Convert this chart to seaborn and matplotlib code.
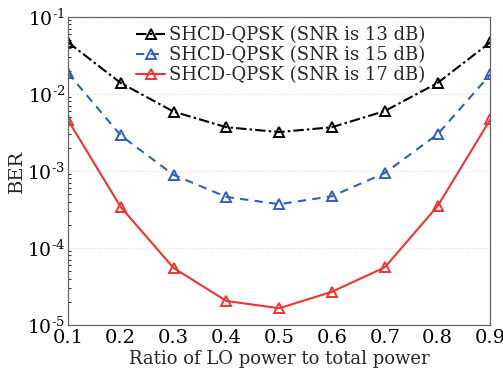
import matplotlib
matplotlib.use('Agg')
from matplotlib import pyplot as plt
from matplotlib.ticker import FixedLocator, FixedFormatter
import pandas as pd
import seaborn as sns

ratio = [0.1, 0.2, 0.3, 0.4, 0.5, 0.6, 0.7, 0.8, 0.9]
ber_13 = [4.7e-2, 1.39e-2, 5.9e-3, 3.7e-3, 3.2e-3, 3.7e-3, 6.0e-3, 1.39e-2, 4.7e-2]
ber_15 = [1.87e-2, 2.9e-3, 8.9e-4, 4.6e-4, 3.7e-4, 4.7e-4, 9.4e-4, 3.0e-3, 1.8e-2]
ber_17 = [4.6e-3, 3.4e-4, 5.5e-5, 2.05e-5, 1.65e-5, 2.7e-5, 5.6e-5, 3.5e-4, 4.7e-3]
labels = ['SHCD-QPSK (SNR is 13 dB)', 'SHCD-QPSK (SNR is 15 dB)', 'SHCD-QPSK (SNR is 17 dB)']
ytick_vals = [1e-5, 1e-4, 1e-3, 1e-2, 1e-1]
ytick_labels = [r'$10^{\text{-}5}$', r'$10^{\text{-}4}$', r'$10^{\text{-}3}$',
                r'$10^{\text{-}2}$', r'$10^{\text{-}1}$']

df = pd.DataFrame({
    'ratio': ratio * 3,
    'BER': ber_13 + ber_15 + ber_17,
    'curve': [labels[0]] * 9 + [labels[1]] * 9 + [labels[2]] * 9,
})

sns.set_style('white')
plt.rcParams['font.family'] = ['DejaVu Serif']
plt.rcParams['mathtext.fontset'] = 'dejavuserif'

colors = ['black', '#2f5fc0', '#f03333']
styles = [(0, (5, 1.5, 1.2, 1.5)), (0, (4, 3)), '-']

f, ax = plt.subplots(figsize=(5.03, 3.77), dpi=100)
for lab, c, ls in zip(labels, colors, styles):
    sub = df[df['curve'] == lab]
    sns.lineplot(data=sub, x='ratio', y='BER', ax=ax, color=c, label=lab,
                 marker='^', markersize=7, markerfacecolor='none',
                 markeredgecolor=c, markeredgewidth=1.4, linewidth=1.5)
    ax.lines[-1].set_linestyle(ls)

ax.set_yscale('log')
ax.set_xlim(0.1, 0.9)
ax.set_ylim(1e-5, 1e-1)
ax.set_xticks(ratio)
ax.set_xticklabels([f'{r:.1f}' for r in ratio])
ax.yaxis.set_major_locator(FixedLocator(ytick_vals))
ax.yaxis.set_major_formatter(FixedFormatter(ytick_labels))
ax.tick_params(axis='both', which='both', direction='in', colors='black')
ax.tick_params(axis='x', labelsize=14, pad=3)
ax.tick_params(axis='y', labelsize=13.5, pad=2)
ax.tick_params(which='major', length=4)
ax.tick_params(which='minor', length=2, left=True)
ax.yaxis.grid(True, which='major', color='#dddddd', linestyle=':', linewidth=0.8)
for s in ax.spines.values():
    s.set_color('#666666')
    s.set_linewidth(0.9)
ax.set_xlabel('Ratio of LO power to total power', fontsize=13, labelpad=2)
ax.set_ylabel('BER', fontsize=14)
ax.yaxis.set_label_coords(-0.1, 0.5)
ax.legend(loc='upper left', bbox_to_anchor=(0.14, 1.0), frameon=False, fontsize=13,
          handlelength=1.6, handletextpad=0.2, borderaxespad=0.1, labelspacing=0.12)

plt.subplots_adjust(left=0.135, right=0.975, top=0.955, bottom=0.138)
plt.savefig('out.png', dpi=100)
